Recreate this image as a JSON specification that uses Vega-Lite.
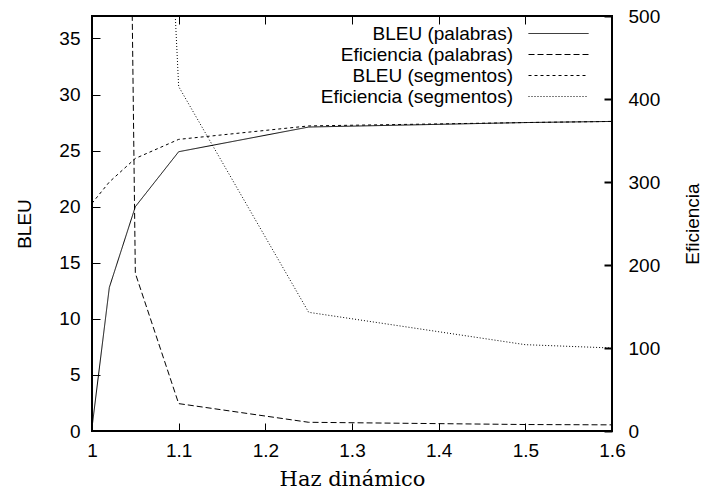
{
  "$schema": "https://vega.github.io/schema/vega-lite/v6.json",
  "width": 520,
  "height": 415,
  "autosize": {"type": "none"},
  "padding": {"left": 92, "top": 16, "right": 91, "bottom": 64},
  "background": "white",
  "config": {
    "view": {"stroke": "black", "strokeWidth": 2},
    "axis": {"domain": false, "grid": false, "ticks": true, "tickColor": "black", "tickWidth": 1,
      "labelFont": "Liberation Sans", "labelFontSize": 19, "labelColor": "black", "labelFlush": false,
      "titleFont": "Liberation Sans", "titleFontSize": 19, "titleFontWeight": "normal", "titleColor": "black"},
    "legend": {"labelFont": "Liberation Sans", "labelFontSize": 19, "labelColor": "black", "labelLimit": 400}
  },
  "data": {"values": [
    {"x": 1.0, "serie": "BLEU (palabras)", "eje": "BLEU", "valor": 0.3},
    {"x": 1.02, "serie": "BLEU (palabras)", "eje": "BLEU", "valor": 12.8},
    {"x": 1.05, "serie": "BLEU (palabras)", "eje": "BLEU", "valor": 20.0},
    {"x": 1.1, "serie": "BLEU (palabras)", "eje": "BLEU", "valor": 24.9},
    {"x": 1.25, "serie": "BLEU (palabras)", "eje": "BLEU", "valor": 27.1},
    {"x": 1.5, "serie": "BLEU (palabras)", "eje": "BLEU", "valor": 27.5},
    {"x": 1.6, "serie": "BLEU (palabras)", "eje": "BLEU", "valor": 27.6},
    {"x": 1.0, "serie": "BLEU (segmentos)", "eje": "BLEU", "valor": 20.3},
    {"x": 1.02, "serie": "BLEU (segmentos)", "eje": "BLEU", "valor": 22.2},
    {"x": 1.05, "serie": "BLEU (segmentos)", "eje": "BLEU", "valor": 24.3},
    {"x": 1.1, "serie": "BLEU (segmentos)", "eje": "BLEU", "valor": 26.0},
    {"x": 1.25, "serie": "BLEU (segmentos)", "eje": "BLEU", "valor": 27.2},
    {"x": 1.5, "serie": "BLEU (segmentos)", "eje": "BLEU", "valor": 27.5},
    {"x": 1.6, "serie": "BLEU (segmentos)", "eje": "BLEU", "valor": 27.6},
    {"x": 1.02, "serie": "Eficiencia (palabras)", "eje": "Eficiencia", "valor": 2800},
    {"x": 1.05, "serie": "Eficiencia (palabras)", "eje": "Eficiencia", "valor": 190},
    {"x": 1.1, "serie": "Eficiencia (palabras)", "eje": "Eficiencia", "valor": 33},
    {"x": 1.25, "serie": "Eficiencia (palabras)", "eje": "Eficiencia", "valor": 10.5},
    {"x": 1.5, "serie": "Eficiencia (palabras)", "eje": "Eficiencia", "valor": 7.8},
    {"x": 1.6, "serie": "Eficiencia (palabras)", "eje": "Eficiencia", "valor": 7.4},
    {"x": 1.05, "serie": "Eficiencia (segmentos)", "eje": "Eficiencia", "valor": 1500},
    {"x": 1.1, "serie": "Eficiencia (segmentos)", "eje": "Eficiencia", "valor": 415},
    {"x": 1.25, "serie": "Eficiencia (segmentos)", "eje": "Eficiencia", "valor": 143},
    {"x": 1.5, "serie": "Eficiencia (segmentos)", "eje": "Eficiencia", "valor": 104},
    {"x": 1.6, "serie": "Eficiencia (segmentos)", "eje": "Eficiencia", "valor": 100}
  ]},
  "layer": [
    {
      "transform": [{"filter": "datum.eje === 'BLEU'"}],
      "mark": {"type": "line", "color": "black", "strokeWidth": 1, "clip": true},
      "encoding": {
        "x": {"field": "x", "type": "quantitative", "scale": {"domain": [1, 1.6], "nice": false, "zero": false},
          "axis": {"orient": "bottom", "title": "Haz dinámico", "values": [1, 1.1, 1.2, 1.3, 1.4, 1.5, 1.6], "format": "~g",
            "ticks": true, "tickSize": -8, "labelPadding": 18,
            "titleFont": "DejaVu Serif", "titleFontSize": 21, "titlePadding": 8}},
        "y": {"field": "valor", "type": "quantitative", "scale": {"domain": [0, 37], "nice": false},
          "axis": {"orient": "left", "title": "BLEU", "values": [0, 5, 10, 15, 20, 25, 30, 35],
            "ticks": true, "tickSize": 8, "offset": -8, "labelPadding": 12, "titlePadding": 24}},
        "strokeDash": {"field": "serie", "type": "nominal",
          "scale": {"domain": ["BLEU (palabras)", "Eficiencia (palabras)", "BLEU (segmentos)", "Eficiencia (segmentos)"],
            "range": [[1, 0], [6, 3], [3, 3], [1, 2]]},
          "legend": {"title": null, "orient": "none", "legendX": 456, "legendY": 7, "padding": 0,
            "symbolType": "M-3,0H3", "symbolSize": 400, "symbolStrokeColor": "black", "symbolStrokeWidth": 1,
            "symbolFillColor": "transparent", "labelAlign": "right", "labelOffset": -56, "rowPadding": 0}}
      }
    },
    {
      "transform": [{"filter": "datum.eje === 'Eficiencia'"}],
      "mark": {"type": "line", "color": "black", "strokeWidth": 1, "clip": true},
      "encoding": {
        "x": {"field": "x", "type": "quantitative", "scale": {"domain": [1, 1.6], "nice": false, "zero": false},
          "axis": {"orient": "top", "title": null, "labels": false, "values": [1, 1.1, 1.2, 1.3, 1.4, 1.5, 1.6],
            "ticks": true, "tickSize": -8}},
        "y": {"field": "valor", "type": "quantitative", "scale": {"domain": [0, 500], "nice": false},
          "axis": {"orient": "right", "title": "Eficiencia", "titleAngle": 270, "values": [0, 100, 200, 300, 400, 500],
            "ticks": true, "tickSize": -8, "tickWidth": 2, "labelPadding": 24, "titlePadding": 43}},
        "strokeDash": {"field": "serie", "type": "nominal"}
      }
    }
  ],
  "resolve": {"scale": {"y": "independent"}, "axis": {"x": "independent"}}
}
